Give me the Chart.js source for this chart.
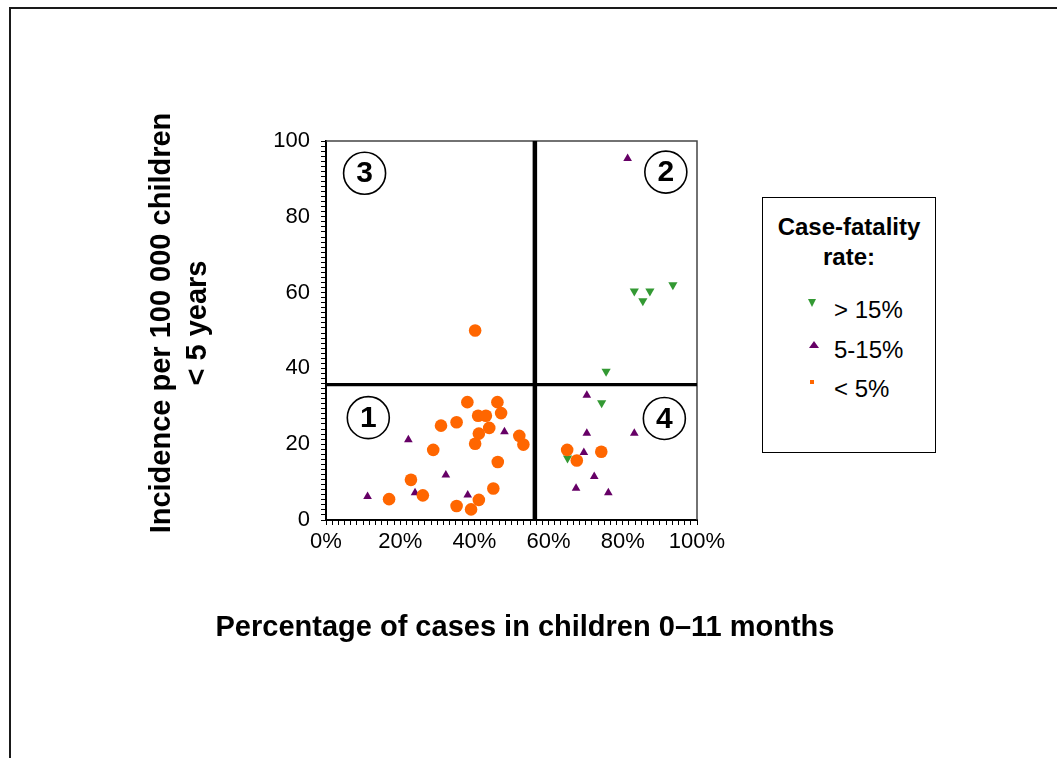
<!DOCTYPE html>
<html>
<head>
<meta charset="utf-8">
<script src="https://cdn.jsdelivr.net/npm/chart.js@4.4.1/dist/chart.umd.min.js"></script>
<style>
  html, body { margin:0; padding:0; background:#fff; overflow:hidden; }
  body { width:1057px; height:758px; position:relative; font-family:"Liberation Sans", Arial, sans-serif; color:#000; }
  #frame { position:absolute; left:9px; top:7px; width:1200px; height:900px; border:2px solid #1a1a1a; box-sizing:border-box; }
  #wrap { position:absolute; left:0; top:0; width:1057px; height:758px; }
  .abs { position:absolute; white-space:nowrap; }
  #ytitle { left:-72px; top:287px; width:500px; height:72px; line-height:36px; font-size:29px; font-weight:bold; text-align:center; transform:rotate(-90deg); transform-origin:250px 36px; }
  #xtitle { left:125px; top:608px; width:800px; line-height:36px; font-size:29px; font-weight:bold; text-align:center; }
  #legend { position:absolute; left:762px; top:197px; width:174px; height:256px; border:1.5px solid #000; box-sizing:border-box; background:#fff; }
  .lt { position:absolute; left:0; width:100%; text-align:center; font-size:24px; font-weight:bold; line-height:24px; }
  .li { position:absolute; left:71px; font-size:24px; line-height:24px; }
  .mk { position:absolute; width:0; height:0; }
</style>
</head>
<body>
<div id="frame"></div>
<div id="wrap"><canvas id="c" width="1057" height="758"></canvas></div>
<div id="ytitle" class="abs">Incidence per 100 000 children<br>&lt; 5 years</div>
<div id="xtitle" class="abs">Percentage of cases in children 0–11 months</div>
<div id="legend">
  <div class="lt" style="top:17px">Case-fatality</div>
  <div class="lt" style="top:47px">rate:</div>
  <div class="mk" style="left:45px;top:101px;border-left:4.5px solid transparent;border-right:4.5px solid transparent;border-top:8px solid #339933;"></div>
  <div class="li" style="top:100px">&gt; 15%</div>
  <div class="mk" style="left:46px;top:143px;border-left:5px solid transparent;border-right:5px solid transparent;border-bottom:7px solid #660066;"></div>
  <div class="li" style="top:140px">5-15%</div>
  <div class="mk" style="left:47px;top:182px;width:4px;height:4px;background:#ff6600;"></div>
  <div class="li" style="top:179px">&lt; 5%</div>
</div>
<script>
// ---- data (x: % of cases in children 0-11 months, y: incidence per 100 000 children < 5 years)
const lowCfrX  = [38.1, 46.2, 41.0, 43.1, 47.2, 35.2, 31.0, 44.0, 41.2, 40.2, 52.1, 53.2, 28.9, 46.3, 22.9, 26.1, 17.0, 45.1, 41.2, 35.2, 39.1, 40.2, 65.0, 67.6, 74.2];
const lowCfrY  = [31.1, 31.1, 27.5, 27.5, 28.2, 25.8, 24.9, 24.3, 22.8, 20.1, 22.2, 19.9, 18.5, 15.3, 10.6,  6.5,  5.5,  8.3,  5.3,  3.7,  2.8, 50.0, 18.5, 15.7, 18.0];
const midCfrX  = [11.2, 22.2, 24.0, 32.3, 38.2, 48.1, 70.3, 70.3, 83.1, 69.5, 72.3, 67.4, 76.1, 81.3];
const midCfrY  = [ 6.2, 21.2,  7.2, 11.9,  6.6, 23.3, 32.9, 22.9, 22.9, 17.8, 11.5,  8.4,  7.2, 95.4];
const highCfrX = [83.1, 87.3, 85.4, 93.5, 75.5, 74.3, 65.1];
const highCfrY = [60.4, 60.4, 57.8, 62.0, 39.2, 30.9, 16.3];
const xCut = 56.3;   // vertical quadrant divider
const yCut = 35.7;   // horizontal quadrant divider
const quadrantNames = ['1', '2', '3', '4'];
const quadrantX = [11.4, 91.6, 10.4, 91.2];
const quadrantY = [27.0, 91.8, 91.5, 26.8];
const xTickLabels = ['0%', '20%', '40%', '60%', '80%', '100%'];
const yTickLabels = ['0', '20', '40', '60', '80', '100'];

const toPts = (xs, ys) => xs.map((x, i) => ({x, y: ys[i]}));
const FONT = '"Liberation Sans", Arial, sans-serif';

const framePlugin = {
  id: 'frameAndLabels',
  beforeDatasetsDraw(chart) {
    const {ctx, chartArea: a} = chart;
    ctx.save();
    ctx.strokeStyle = '#444';
    ctx.lineWidth = 1.5;
    ctx.beginPath();
    ctx.moveTo(a.left, a.top); ctx.lineTo(a.right, a.top); ctx.lineTo(a.right, a.bottom);
    ctx.stroke();
    ctx.restore();
  },
  afterDatasetsDraw(chart) {
    const {ctx} = chart;
    const xs = chart.scales.x, ys = chart.scales.y;
    ctx.save();
    quadrantNames.forEach((t, i) => {
      const px = xs.getPixelForValue(quadrantX[i]);
      const py = ys.getPixelForValue(quadrantY[i]);
      ctx.beginPath();
      ctx.arc(px, py, 21, 0, Math.PI * 2);
      ctx.fillStyle = '#fff';
      ctx.fill();
      ctx.lineWidth = 1.6;
      ctx.strokeStyle = '#000';
      ctx.stroke();
      ctx.fillStyle = '#000';
      ctx.font = 'bold 30px ' + FONT;
      ctx.textAlign = 'center';
      ctx.textBaseline = 'middle';
      ctx.fillText(t, px, py + 1);
    });
    ctx.restore();
  }
};

new Chart(document.getElementById('c'), {
  type: 'scatter',
  data: {
    datasets: [
      { label: '< 5%', data: toPts(lowCfrX, lowCfrY), pointStyle: 'circle', pointRadius: 6.3,
        backgroundColor: '#ff6600', borderColor: '#ff6600', borderWidth: 0 },
      { label: '5-15%', data: toPts(midCfrX, midCfrY), pointStyle: 'triangle', pointRadius: 5,
        backgroundColor: '#660066', borderColor: '#660066', borderWidth: 0 },
      { label: '> 15%', data: toPts(highCfrX, highCfrY), pointStyle: 'triangle', rotation: 180, pointRadius: 5.3,
        backgroundColor: '#339933', borderColor: '#339933', borderWidth: 0 },
      { type: 'line', label: 'xcut', data: [{x: xCut, y: 0}, {x: xCut, y: 100}], borderColor: '#000',
        borderWidth: 4.5, pointRadius: 0, showLine: true, fill: false },
      { type: 'line', label: 'ycut', data: [{x: 0, y: yCut}, {x: 100, y: yCut}], borderColor: '#000',
        borderWidth: 3.3, pointRadius: 0, showLine: true, fill: false }
    ]
  },
  options: {
    responsive: false,
    animation: false,
    events: [],
    layout: { padding: { left: 256, top: 141, right: 360, bottom: 198 } },
    plugins: { legend: { display: false }, tooltip: { enabled: false } },
    scales: {
      x: {
        type: 'linear', min: 0, max: 100,
        afterFit: s => { s.height = 40; },
        border: { display: true, color: '#000', width: 2 },
        grid: { drawOnChartArea: false, drawTicks: true, tickLength: 5, tickColor: '#000', lineWidth: 1 },
        ticks: {
          stepSize: 100 / 60, autoSkip: false, maxRotation: 0, minRotation: 0, padding: 4,
          color: '#000', font: { family: FONT, size: 22 },
          callback: (v, i) => (i % 12 === 0 ? xTickLabels[i / 12] : '')
        }
      },
      y: {
        type: 'linear', min: 0, max: 100,
        afterFit: s => { s.width = 70; },
        border: { display: true, color: '#000', width: 2 },
        grid: { drawOnChartArea: false, drawTicks: true, tickLength: 5, tickColor: '#000', lineWidth: 1 },
        ticks: {
          stepSize: 20 / 15, autoSkip: false, padding: 11,
          color: '#000', font: { family: FONT, size: 22 },
          callback: (v, i) => (i % 15 === 0 ? yTickLabels[i / 15] : '')
        }
      }
    }
  },
  plugins: [framePlugin]
});
</script>
</body>
</html>
